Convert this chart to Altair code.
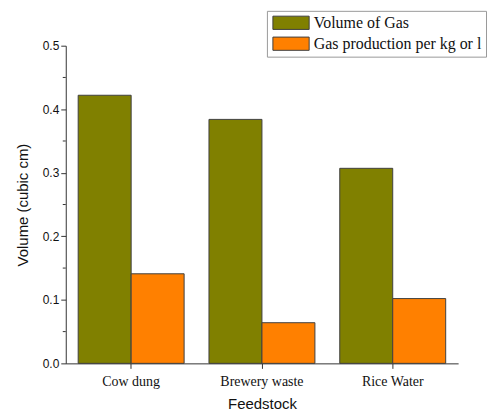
import altair as alt
import pandas as pd

categories = ["Cow dung", "Brewery waste", "Rice Water"]
series = ["Volume of Gas", "Gas production per kg or l"]
volume_of_gas = [0.422, 0.384, 0.307]
gas_per_kg = [0.141, 0.064, 0.102]
y_ticks = [0.0, 0.1, 0.2, 0.3, 0.4, 0.5]
y_minor = [0.05, 0.15, 0.25, 0.35, 0.45]
colors = ["#808000", "#FF8000"]

rows = []
for c, v1, v2 in zip(categories, volume_of_gas, gas_per_kg):
    rows.append({"Feedstock": c, "Series": series[0], "Value": v1})
    rows.append({"Feedstock": c, "Series": series[1], "Value": v2})
df = pd.DataFrame(rows)
minor_df = pd.DataFrame({"v": y_minor})

axis_color = "#333333"

bars = alt.Chart(df).mark_bar(stroke="#404040", strokeWidth=1).encode(
    x=alt.X("Feedstock:N", sort=categories, title="Feedstock",
            scale=alt.Scale(paddingInner=0.19, paddingOuter=0.095),
            axis=alt.Axis(labelAngle=0, labelFont="Liberation Serif", labelFontSize=14,
                          labelColor="#111111", titleFont="Liberation Sans", titleFontSize=15,
                          titleFontWeight="normal", titleColor="#111111", titlePadding=8,
                          domainColor=axis_color, tickColor=axis_color, tickSize=5,
                          labelPadding=6, grid=False)),
    xOffset=alt.XOffset("Series:N", sort=series,
                        scale=alt.Scale(paddingInner=0, paddingOuter=0)),
    y=alt.Y("Value:Q", title="Volume (cubic cm)",
            scale=alt.Scale(domain=[0, 0.5], nice=False),
            axis=alt.Axis(values=y_ticks, format=".1f", labelFont="Liberation Sans",
                          labelFontSize=12, labelColor="#111111", titleFont="Liberation Sans",
                          titleFontSize=15, titleFontWeight="normal", titleColor="#111111",
                          titlePadding=12, domainColor=axis_color, tickColor=axis_color,
                          tickSize=5, grid=False)),
    color=alt.Color("Series:N", sort=series,
                    scale=alt.Scale(domain=series, range=colors),
                    legend=alt.Legend(title=None, orient="none", legendX=202, legendY=-35,
                                      symbolType="M-1,-0.95H4.2V0.95H-1Z", symbolSize=196,
                                      symbolStrokeColor="#404040", symbolStrokeWidth=1,
                                      symbolOpacity=1, labelOffset=26,
                                      labelFont="Liberation Serif", labelFontSize=16,
                                      labelColor="#111111", strokeColor="#999999",
                                      fillColor="white", padding=4, rowPadding=3,
                                      symbolOffset=1, labelLimit=300)),
)

minor = alt.Chart(minor_df).mark_rule(color=axis_color, strokeWidth=1).encode(
    y=alt.Y("v:Q"),
    x=alt.value(-3),
    x2=alt.value(0),
)

chart = alt.layer(bars, minor).properties(
    width=394, height=319,
    autosize=alt.AutoSizeParams(type="none"),
    padding={"left": 58, "top": 37, "right": 30, "bottom": 52},
).configure_view(stroke=None)

chart.save("out.html", embed_options={"renderer": "svg", "actions": False})
